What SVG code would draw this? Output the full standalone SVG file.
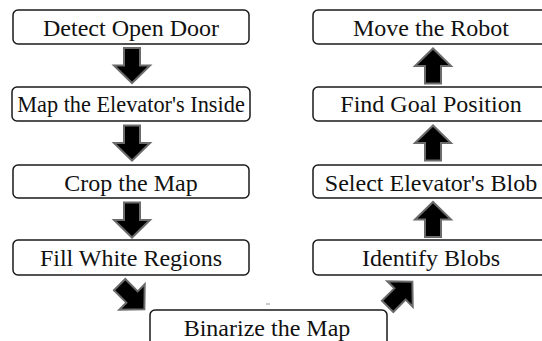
<svg xmlns="http://www.w3.org/2000/svg" width="542" height="341" viewBox="0 0 542 341">
<defs>
<path id="dn" d="M-8,-17.5 H8 V0 H18 L0,17.5 L-18,0 H-8 Z" fill="#000" stroke="#6b6b6b" stroke-width="2"/>
</defs>
<rect width="542" height="341" fill="#fff"/>
<g id="connectors">
<use href="#dn" transform="translate(132,65.5)"/>
<use href="#dn" transform="translate(132,143)"/>
<use href="#dn" transform="translate(132,220)"/>
<use href="#dn" transform="translate(132,297) rotate(-45)"/>
<use href="#dn" transform="translate(400,294) rotate(-135)"/>
<use href="#dn" transform="translate(433,219.5) rotate(180)"/>
<use href="#dn" transform="translate(433,143) rotate(180)"/>
<use href="#dn" transform="translate(433,66) rotate(180)"/>
</g>
<g id="detect"><rect x="13" y="10" width="236" height="34" rx="5" fill="#fff" stroke="#1a1a1a" stroke-width="1.5"/><text x="131" y="36" font-family="Liberation Serif" font-size="24" text-anchor="middle" fill="#111">Detect Open Door</text></g>
<g id="mapinside"><rect x="12" y="87" width="238" height="34" rx="5" fill="#fff" stroke="#1a1a1a" stroke-width="1.5"/><text x="0" y="0" transform="translate(131,112) scale(0.93,1)" font-family="Liberation Serif" font-size="24" text-anchor="middle" fill="#111">Map the Elevator's Inside</text></g>
<g id="crop"><rect x="13" y="165" width="236" height="33" rx="5" fill="#fff" stroke="#1a1a1a" stroke-width="1.5"/><text x="131" y="190.5" font-family="Liberation Serif" font-size="24" text-anchor="middle" fill="#111">Crop the Map</text></g>
<g id="fill"><rect x="13" y="240" width="236" height="35" rx="5" fill="#fff" stroke="#1a1a1a" stroke-width="1.5"/><text x="131" y="266" font-family="Liberation Serif" font-size="24" text-anchor="middle" fill="#111">Fill White Regions</text></g>
<g id="binarize"><rect x="150" y="310" width="237" height="36" rx="5" fill="#fff" stroke="#1a1a1a" stroke-width="1.5"/><text x="267" y="336" font-family="Liberation Serif" font-size="24" text-anchor="middle" fill="#111">Binarize the Map</text></g>
<g id="identify"><rect x="313" y="240" width="240" height="35" rx="5" fill="#fff" stroke="#1a1a1a" stroke-width="1.5"/><text x="431" y="265.5" font-family="Liberation Serif" font-size="24" text-anchor="middle" fill="#111">Identify Blobs</text></g>
<g id="select"><rect x="313" y="165" width="240" height="33" rx="5" fill="#fff" stroke="#1a1a1a" stroke-width="1.5"/><text x="431" y="190.5" font-family="Liberation Serif" font-size="24" text-anchor="middle" fill="#111">Select Elevator's Blob</text></g>
<g id="findgoal"><rect x="313" y="87" width="240" height="34" rx="5" fill="#fff" stroke="#1a1a1a" stroke-width="1.5"/><text x="431" y="112" font-family="Liberation Serif" font-size="24" text-anchor="middle" fill="#111">Find Goal Position</text></g>
<g id="move"><rect x="313" y="10" width="240" height="34" rx="5" fill="#fff" stroke="#1a1a1a" stroke-width="1.5"/><text x="431" y="35.5" font-family="Liberation Serif" font-size="24" text-anchor="middle" fill="#111">Move the Robot</text></g>
<line x1="266" y1="304" x2="270" y2="304" stroke="#999" stroke-width="1"/>
</svg>
